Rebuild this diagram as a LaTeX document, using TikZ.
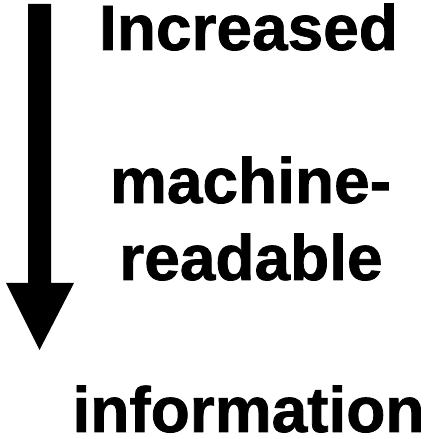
\documentclass[tikz,border=0pt]{standalone}
\usepackage{fontspec}
\setmainfont{Liberation Sans}[BoldFont={Liberation Sans Bold}]
\newfontfamily\heavyfont{Liberation Sans Bold}[FakeBold=1.2]
\begin{document}
\begin{tikzpicture}[x=1pt,y=1pt,
  label/.style={anchor=base,inner sep=0pt,text depth=0pt,font=\heavyfont\fontsize{64}{64}\selectfont}]
\useasboundingbox (0,0) rectangle (427,439);
% arrow
\fill[black] (28,435) -- (51,435) -- (51,156) -- (74,156) -- (39.5,89) -- (6,156) -- (28,156) -- cycle;
\node[label] (l1) at (248.5,389) {Increased};
\node[label] (l2) at (250.5,236) {machine-};
\node[label] (l3) at (251,159) {readable};
\node[label] (l4) at (248.5,7) {information};
\end{tikzpicture}
\end{document}
